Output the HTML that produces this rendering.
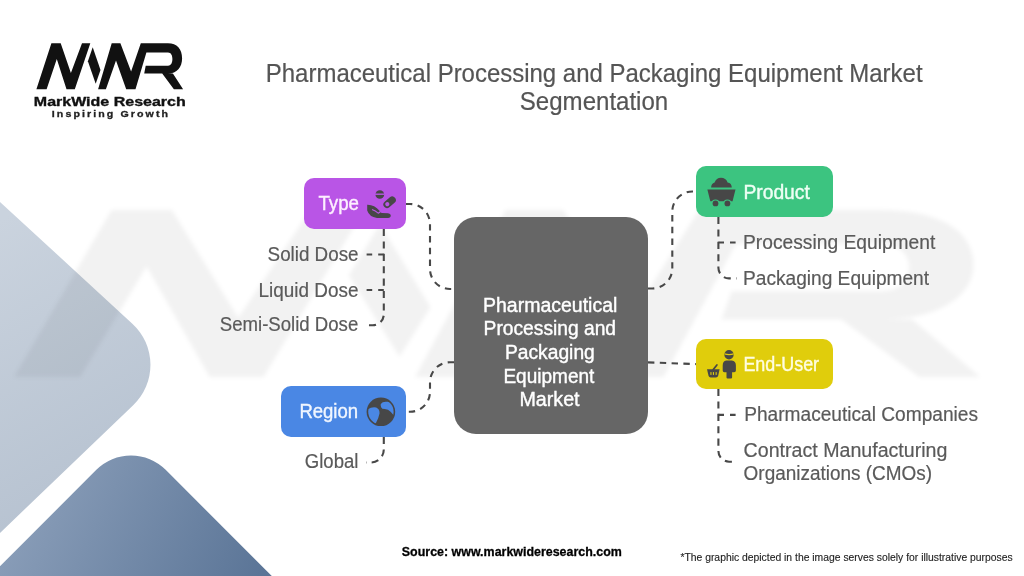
<!DOCTYPE html>
<html><head><meta charset="utf-8">
<style>
html,body{margin:0;padding:0;background:#fff;width:1024px;height:576px;overflow:hidden}
svg{display:block;will-change:transform}
text{font-family:"Liberation Sans",sans-serif}
.med{stroke:currentColor;stroke-width:0.4px;paint-order:stroke}
.dash{fill:none;stroke:#484848;stroke-width:2.1;stroke-dasharray:6.4 5.4}
.dv{stroke-dasharray:7.1 5.3}
.dh{stroke-dasharray:5.6 6.0}
</style></head>
<body>
<svg width="1024" height="576" viewBox="0 0 1024 576">
<defs>
<linearGradient id="gL" gradientUnits="userSpaceOnUse" x1="0" y1="220" x2="170" y2="520">
<stop offset="0" stop-color="#cad3de"/><stop offset="1" stop-color="#b3bfce"/>
</linearGradient>
<linearGradient id="gD" gradientUnits="userSpaceOnUse" x1="40" y1="470" x2="260" y2="576">
<stop offset="0" stop-color="#899db8"/><stop offset="1" stop-color="#5b7597"/>
</linearGradient>
<g id="mwr">
<g id="mwrA">
<path d="M36.4 89.3 L51.4 43.3 L60.7 43.3 L70.9 73 L82 43.3 L90.3 43.3 L74.8 89.3 L66.5 89.3 L56.8 58.9 L46.6 89.3 Z"/>
<path d="M92.7 47.2 L100.5 70.1 L95.7 83.7 L87.9 61.3 Z"/>
</g>
<path id="mwrB" d="M98.1 89.3 L111.7 43.3 L120.4 43.3 L131.1 71.5 L140.8 43.3 L168 43.3 C177 43.3 182.1 49 182.1 58.4 C182.1 67 177 73.5 168 73.5 L172.9 73.5 L183.1 89.3 L173.9 89.3 L162.2 73.5 L144.2 73.5 L145.7 65.7 L168 65.7 C171.5 65.7 172.4 62 172.4 59.1 C172.4 55.5 171 52.6 168 52.6 L146.4 52.6 L135.5 89.3 L126.2 89.3 L116 60.4 L105.9 89.3 Z"/>
</g>
<filter id="blur" x="-10%" y="-10%" width="120%" height="120%"><feGaussianBlur stdDeviation="2.0"/></filter>
</defs>

<path d="M-100 109.9 L132.35 323.67 A56 56 0 0 1 133.18 405.32 L-100 628.7 Z" fill="url(#gL)"/>
<path d="M-133.8 700 L96.35 469.85 A49 49 0 0 1 165.65 469.85 L395.8 700 Z" fill="url(#gD)"/>

<g filter="url(#blur)" fill="#000" fill-opacity="0.05"><use href="#mwrA" transform="matrix(6.5 0 0 3.63 -222.6 52.8)"/><use href="#mwrB" transform="matrix(6.65 0 0 3.63 -237.4 52.8)"/></g>

<use href="#mwr" fill="#111"/>
<text id="logo1" x="33.80" y="106.4" font-size="13" fill="#111" font-weight="bold" stroke="#111" stroke-width="0.35" textLength="151.95" lengthAdjust="spacingAndGlyphs">MarkWide Research</text>
<text id="logo2" x="51.80" y="117.4" font-size="9.7" fill="#222" font-weight="bold" letter-spacing="1.9" stroke="#222" stroke-width="0.3" textLength="118.33" lengthAdjust="spacingAndGlyphs">Inspiring Growth</text>
<text id="title1" x="265.80" y="81.7" font-size="25" fill="#555" stroke="#555" stroke-width="0.2" textLength="656.79" lengthAdjust="spacingAndGlyphs">Pharmaceutical Processing and Packaging Equipment Market</text>
<text id="title2" x="519.80" y="110.4" font-size="25" fill="#555" stroke="#555" stroke-width="0.2" textLength="148.43" lengthAdjust="spacingAndGlyphs">Segmentation</text>

<path class="dash" d="M406 204 L410 204 A20 20 0 0 1 430 224 L430 269 A20 20 0 0 0 450 289 L454 289"/>
<path class="dash" d="M454 362.2 L450 362.2 A20 20 0 0 0 430 382.2 L430 391.8 A20 20 0 0 1 410 411.8 L406 411.8"/>
<path class="dash" d="M648 288.5 L652.3 288.5 A20 20 0 0 0 672.3 268.5 L672.3 211.5 A20 20 0 0 1 692.3 191.5 L696 191.5"/>
<path class="dash" d="M648 362.4 L696 364.1"/>
<path class="dash dv" d="M383.8 229 L383.8 314.3 A11 11 0 0 1 372.8 325.3 L365.5 325.3"/>
<path class="dash dh" d="M383.8 254.5 L366 254.5"/>
<path class="dash dh" d="M383.8 290 L366 290"/>
<path class="dash dv" d="M383.8 437 L383.8 449.5 A13 13 0 0 1 370.8 462.5 L366 462.5"/>
<path class="dash dv" d="M718.4 217 L718.4 267.8 A10.6 10.6 0 0 0 729 278.4 L736.5 278.4"/>
<path class="dash dh" d="M718.4 242.5 L736 242.5"/>
<path class="dash dv" d="M718.4 389 L718.4 451 A10.7 10.7 0 0 0 729.1 461.7 L736.5 461.7"/>
<path class="dash dh" d="M718.4 414.9 L736 414.9"/>

<rect x="304" y="178" width="102" height="51" rx="10" fill="#b955e6"/>
<rect x="696" y="166" width="137" height="51" rx="10" fill="#3cc480"/>
<rect x="696" y="339" width="137" height="50" rx="10" fill="#e0cd0c"/>
<rect x="281" y="386" width="125" height="51" rx="10" fill="#4a87e4"/>
<rect x="454" y="217" width="194" height="217" rx="22" fill="#666"/>

<!-- icons -->
<g fill="#474747">
<!-- type: pills + hand -->
<ellipse cx="379.8" cy="194.5" rx="4.4" ry="4.3"/>
<rect x="375" y="193.5" width="9.6" height="1.4" fill="#b955e6"/>
<g transform="translate(389.6 202.2) rotate(-40)">
<rect x="-7" y="-3.6" width="14" height="7.2" rx="3.6"/>
<circle cx="-3" cy="0" r="2.1" fill="#b955e6"/>
</g>
<path d="M367.2 204.8 Q374.5 204.6 379.5 210.8 L380.6 212.6 Q381.2 213 382 213 L388 213.2 Q390.8 213.5 390.8 215.6 Q390.8 218 388 218 L377 218 Q369.2 216.8 367.2 210.5 Z"/>
<path d="M372 209.6 Q375.5 210.8 378.2 213.2 Q379.6 212.6 380.4 211.4" stroke="#b955e6" stroke-width="1.1" fill="none"/>
<!-- product: mine cart -->
<path d="M711.1 187.6 Q711.2 183.6 714.6 182.6 Q716.2 177.8 721 177.8 Q725.8 177.8 727.6 182.4 Q731.7 183 731.8 187.6 Z"/>
<path d="M707.4 189.6 L735.5 189.6 L732.6 201.2 L710.3 201.2 Z"/>
<circle cx="715.5" cy="203.4" r="4" fill="#3cc480"/>
<circle cx="727.4" cy="203.4" r="4" fill="#3cc480"/>
<circle cx="715.5" cy="203.4" r="2.9"/>
<circle cx="727.4" cy="203.4" r="2.9"/>
<!-- end-user: worker + basket -->
<circle cx="729" cy="354.8" r="4.7"/>
<path d="M724.6 353.2 Q729 354.6 733.6 353.2 L733.8 354.4 Q729 355.9 724.4 354.4 Z" fill="#e0cd0c"/>
<path d="M726.2 360.6 L731.8 360.6 Q735.9 361 735.9 365.5 L735.9 370.6 Q735.9 372.3 734.2 372.3 L732.1 372.3 L732.1 377.6 Q732.1 378.6 731 378.6 L727.6 378.6 Q726.5 378.6 726.5 377.6 L726.5 372.3 L724.4 372.3 Q722.7 372.3 722.7 370.6 L722.7 365.5 Q722.7 361 726.2 360.6 Z"/>
<path d="M707 369.2 L719.6 369.2 L718.1 376 Q717.6 377.4 716 377.4 L710.6 377.4 Q709 377.4 708.6 376 Z"/>
<path d="M713.2 369.6 L716.9 365" stroke="#474747" stroke-width="1.7" stroke-linecap="round" fill="none"/>
<g fill="#e0cd0c"><rect x="710.4" y="372.1" width="1.1" height="2.8"/><rect x="712.9" y="372.1" width="1.1" height="2.8"/><rect x="715.6" y="372.1" width="1.1" height="2.8"/></g>
<!-- region: globe -->
<circle cx="380.9" cy="411.8" r="14.3"/>
<clipPath id="gclip"><circle cx="380.9" cy="411.8" r="12.7"/></clipPath>
<g clip-path="url(#gclip)">
<path d="M367.9 409.2 Q371.5 406.6 376.2 407.4 Q379.9 409 379.5 413.6 Q378.7 418.4 375.6 423.8 Q369.6 421 367.6 415.4 Q366.9 411.6 367.9 409.2 Z" fill="#4a87e4"/>
<path d="M380.8 404 Q382.6 401 387.8 401.8 Q394 403.8 395.3 411.8 L394.8 416.8 Q391.4 411.8 388 409.8 Q384.6 408.8 382.4 408.8 Q380.2 407 380.8 404 Z" fill="#4a87e4"/>
</g>
</g>


<text id="type" x="318.40" y="210.1" font-size="19.4" fill="#fdf0ff" class="med" color="#fdf0ff" textLength="40.54" lengthAdjust="spacingAndGlyphs">Type</text>
<text id="product" x="743.40" y="198.8" font-size="19.4" fill="#effff5" class="med" color="#effff5" textLength="66.44" lengthAdjust="spacingAndGlyphs">Product</text>
<text id="enduser" x="743.40" y="370.9" font-size="19.4" fill="#fffde0" class="med" color="#fffde0" textLength="75.68" lengthAdjust="spacingAndGlyphs">End-User</text>
<text id="region" x="299.40" y="418.2" font-size="19.4" fill="#f0f6ff" class="med" color="#f0f6ff" textLength="58.70" lengthAdjust="spacingAndGlyphs">Region</text>
<text id="c1" x="483.00" y="311.6" font-size="19.4" fill="#fff" class="med" color="#fff" textLength="134.39" lengthAdjust="spacingAndGlyphs">Pharmaceutical</text>
<text id="c2" x="483.60" y="334.9" font-size="19.4" fill="#fff" class="med" color="#fff" textLength="132.44" lengthAdjust="spacingAndGlyphs">Processing and</text>
<text id="c3" x="505.00" y="358.6" font-size="19.4" fill="#fff" class="med" color="#fff" textLength="89.78" lengthAdjust="spacingAndGlyphs">Packaging</text>
<text id="c4" x="503.40" y="382.6" font-size="19.4" fill="#fff" class="med" color="#fff" textLength="90.93" lengthAdjust="spacingAndGlyphs">Equipment</text>
<text id="c5" x="519.40" y="406.0" font-size="19.4" fill="#fff" class="med" color="#fff" textLength="60.18" lengthAdjust="spacingAndGlyphs">Market</text>
<text id="s1" x="267.60" y="261.0" font-size="19.4" fill="#5a5a5a" stroke="#5a5a5a" stroke-width="0.2" textLength="90.93" lengthAdjust="spacingAndGlyphs">Solid Dose</text>
<text id="s2" x="258.60" y="296.6" font-size="19.4" fill="#5a5a5a" stroke="#5a5a5a" stroke-width="0.2" textLength="99.90" lengthAdjust="spacingAndGlyphs">Liquid Dose</text>
<text id="s3" x="219.80" y="331.4" font-size="19.4" fill="#5a5a5a" stroke="#5a5a5a" stroke-width="0.2" textLength="138.45" lengthAdjust="spacingAndGlyphs">Semi-Solid Dose</text>
<text id="s4" x="304.80" y="467.6" font-size="19.4" fill="#5a5a5a" stroke="#5a5a5a" stroke-width="0.2" textLength="53.60" lengthAdjust="spacingAndGlyphs">Global</text>
<text id="p1" x="743.00" y="249.1" font-size="19.4" fill="#5a5a5a" stroke="#5a5a5a" stroke-width="0.2" textLength="192.33" lengthAdjust="spacingAndGlyphs">Processing Equipment</text>
<text id="p2" x="743.00" y="284.6" font-size="19.4" fill="#5a5a5a" stroke="#5a5a5a" stroke-width="0.2" textLength="186.06" lengthAdjust="spacingAndGlyphs">Packaging Equipment</text>
<text id="e1" x="744.20" y="421.0" font-size="19.4" fill="#5a5a5a" stroke="#5a5a5a" stroke-width="0.2" textLength="233.86" lengthAdjust="spacingAndGlyphs">Pharmaceutical Companies</text>
<text id="e2" x="743.60" y="457.0" font-size="19.4" fill="#5a5a5a" stroke="#5a5a5a" stroke-width="0.2" textLength="203.82" lengthAdjust="spacingAndGlyphs">Contract Manufacturing</text>
<text id="e3" x="743.60" y="479.8" font-size="19.4" fill="#5a5a5a" stroke="#5a5a5a" stroke-width="0.2" textLength="188.48" lengthAdjust="spacingAndGlyphs">Organizations (CMOs)</text>
<text id="src" x="401.80" y="555.5" font-size="12.8" fill="#000" font-weight="bold" stroke="#000" stroke-width="0.3" textLength="220.05" lengthAdjust="spacingAndGlyphs">Source: www.markwideresearch.com</text>
<text id="foot" x="680.40" y="561.3" font-size="10.4" fill="#222" stroke="#222" stroke-width="0.12" textLength="332.32" lengthAdjust="spacingAndGlyphs">*The graphic depicted in the image serves solely for illustrative purposes</text>
</svg>
</body></html>
